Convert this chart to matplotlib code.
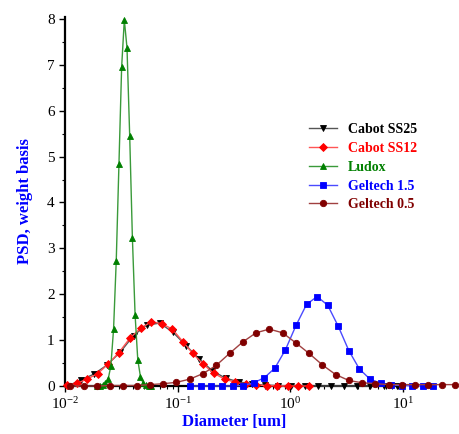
import matplotlib
matplotlib.use("Agg")
import matplotlib.pyplot as plt
from matplotlib.ticker import MultipleLocator, LogLocator, LogFormatterMathtext, NullFormatter

plt.rcParams['font.family'] = ['Liberation Serif', 'DejaVu Serif']
plt.rcParams['mathtext.fontset'] = 'custom'
plt.rcParams['mathtext.rm'] = 'Liberation Serif'
plt.rcParams['mathtext.it'] = 'Liberation Serif:italic'
plt.rcParams['mathtext.bf'] = 'Liberation Serif:bold'

# ---- data (diameter in um, PSD weight basis) ----
ss25_d = [0.01057, 0.01383, 0.01809, 0.02367, 0.03099, 0.04055, 0.05306, 0.06944,
          0.09087, 0.1189, 0.1556, 0.2036, 0.2665, 0.3487, 0.4563, 0.5971, 0.7814,
          1.023, 1.338, 1.752, 2.292, 3.000, 3.925, 5.136, 6.721, 8.795]
ss25_v = [0.0, 0.13, 0.26, 0.46, 0.74, 1.10, 1.33, 1.37,
          1.17, 0.88, 0.59, 0.33, 0.17, 0.09, 0.04, 0.02, 0.01,
          0.0, 0.0, 0.0, 0.0, 0.0, 0.0, 0.0, 0.0, 0.0]

ss12_d = [0.0104, 0.0128, 0.0157, 0.0195, 0.0242, 0.0301, 0.0376, 0.0468, 0.0585,
          0.0721, 0.0897, 0.111, 0.136, 0.168, 0.208, 0.261, 0.326, 0.404, 0.500,
          0.619, 0.767, 0.951, 1.18, 1.46]
ss12_v = [0.02, 0.06, 0.15, 0.27, 0.48, 0.73, 1.04, 1.26, 1.40,
          1.36, 1.24, 0.97, 0.71, 0.48, 0.28, 0.15, 0.08, 0.04, 0.02,
          0.01, 0.0, 0.0, 0.0, 0.0]

ludox_d = [0.01940, 0.02049, 0.02165, 0.02288, 0.02416, 0.02554, 0.02698, 0.02850,
           0.03012, 0.03182, 0.03361, 0.03551, 0.03752, 0.03964, 0.04189, 0.04426,
           0.04676, 0.04940, 0.05220, 0.05515, 0.05827]
ludox_v = [0.0, 0.01, 0.03, 0.06, 0.15, 0.44, 1.24, 2.73,
           4.84, 6.95, 7.98, 7.37, 5.45, 3.23, 1.55, 0.57,
           0.20, 0.06, 0.02, 0.01, 0.0]

g15_d = [0.1296, 0.1608, 0.1995, 0.2476, 0.3073, 0.3814, 0.4733, 0.5875, 0.7291,
         0.9048, 1.123, 1.394, 1.730, 2.147, 2.665, 3.307, 4.104, 5.093, 6.322,
         7.845, 9.736, 12.08, 15.00, 18.61]
g15_v = [0.0, 0.0, 0.0, 0.0, 0.0, 0.01, 0.07, 0.18, 0.39,
         0.79, 1.32, 1.78, 1.95, 1.76, 1.30, 0.77, 0.37, 0.15, 0.06,
         0.02, 0.01, 0.0, 0.0, 0.0]

g05_d = [0.01116, 0.01464, 0.01919, 0.02517, 0.03301, 0.04329, 0.05675, 0.07442,
         0.09759, 0.1280, 0.1678, 0.2200, 0.2886, 0.3784, 0.4962, 0.6506, 0.8531,
         1.119, 1.467, 1.924, 2.522, 3.308, 4.337, 5.687, 7.457, 9.779, 12.82,
         16.81, 22.05, 28.91]
g05_v = [0.0, 0.0, 0.0, 0.01, 0.01, 0.01, 0.03, 0.05,
         0.08, 0.15, 0.27, 0.45, 0.71, 0.96, 1.16, 1.24, 1.16,
         0.94, 0.71, 0.46, 0.25, 0.12, 0.07, 0.05, 0.03, 0.03, 0.03,
         0.03, 0.03, 0.03]

series = [
    ("Cabot SS25", ss25_d, ss25_v, "#000000", "#555555", "v", 4.0),
    ("Cabot SS12", ss12_d, ss12_v, "#ff0000", "#ff5555", "D", 3.6),
    ("Ludox", ludox_d, ludox_v, "#008000", "#3a9a3a", "^", 4.0),
    ("Geltech 1.5", g15_d, g15_v, "#0000ff", "#4a4aff", "s", 3.8),
    ("Geltech 0.5", g05_d, g05_v, "#800000", "#a04040", "o", 4.6),
]

fig = plt.figure(figsize=(4.59, 4.34), dpi=100)
W, H = 459.0, 434.0
ax = fig.add_axes([65 / W, 1 - 386 / H, (403 - 65) / W, (386 - 16.7) / H])

handles = []
for name, d, v, mc, lc, mk, ms in series:
    h, = ax.plot(d, v, color=lc, lw=1.0, marker=mk, ms=ms, mfc=mc, mec=mc,
                 mew=0.6, clip_on=False, label=name, zorder=3)
    handles.append(h)

ax.set_xscale('log')
ax.set_xlim(0.01, 10)
ax.set_ylim(0, 8.05)

ax.spines['top'].set_visible(False)
ax.spines['right'].set_visible(False)
for s in ('left', 'bottom'):
    ax.spines[s].set_linewidth(1.6)
    ax.spines[s].set_zorder(2)

ax.yaxis.set_major_locator(MultipleLocator(1))
ax.yaxis.set_minor_locator(MultipleLocator(0.5))
ax.xaxis.set_major_locator(LogLocator(base=10, numticks=10))
ax.xaxis.set_minor_locator(LogLocator(base=10, subs=range(2, 10), numticks=20))
ax.xaxis.set_major_formatter(LogFormatterMathtext())
ax.xaxis.set_minor_formatter(NullFormatter())

ax.tick_params(which='major', direction='out', length=4.5, width=1.0, labelsize=11, pad=3)
ax.tick_params(which='minor', direction='out', length=2.3, width=0.8)

ax.set_xlabel("Diameter [um]", color='#0000ff', fontweight='bold', fontsize=12, labelpad=1)
ax.set_ylabel("PSD, weight basis", color='#0000ff', fontweight='bold', fontsize=12, labelpad=10)

leg = ax.legend(handles=handles, loc='upper left',
                bbox_to_anchor=(309 / W, 1 - 123 / H), bbox_transform=fig.transFigure,
                frameon=False, handlelength=2.0, handletextpad=0.8,
                labelspacing=0.42, borderpad=0, borderaxespad=0,
                prop={'weight': 'bold', 'size': 10, 'family': 'Liberation Serif'})
for t, (_, _, _, mc, _, _, _) in zip(leg.get_texts(), series):
    t.set_color(mc)

fig.savefig("out.png", dpi=100)
